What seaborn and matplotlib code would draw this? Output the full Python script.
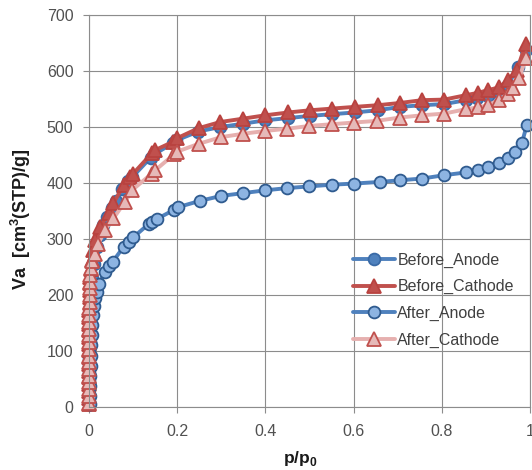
#!/usr/bin/env python3
"""N2 adsorption isotherms, anode/cathode before and after use."""

import matplotlib
matplotlib.use("Agg")
import matplotlib.pyplot as plt
import numpy as np
import pandas as pd
import seaborn as sns

# Before_Anode
before_anode_x = [0.0005, 0.0006, 0.0008, 0.0010, 0.0012, 0.0014, 0.0016, 0.0018, 0.0020, 0.0023,
                  0.0026, 0.0030, 0.0035, 0.0040, 0.0050, 0.0065, 0.0085, 0.012, 0.018, 0.025,
                  0.033, 0.042, 0.052, 0.062, 0.076, 0.090, 0.098, 0.140, 0.148, 0.190,
                  0.198, 0.248, 0.298, 0.350, 0.400, 0.452, 0.502, 0.552, 0.602, 0.655,
                  0.705, 0.755, 0.805, 0.855, 0.880, 0.905, 0.930, 0.950, 0.972, 0.990]
before_anode_y = [5, 18, 32, 46, 60, 74, 88, 102, 116, 130,
                  144, 158, 172, 186, 200, 215, 230, 255, 285, 308,
                  325, 340, 355, 368, 390, 404, 410, 445, 451, 471,
                  476, 492, 500, 506, 512, 516, 520, 523, 526, 530,
                  536, 539, 541, 548, 552, 556, 562, 575, 608, 637]

# Before_Cathode
before_cathode_x = [0.0000, 0.0001, 0.0002, 0.0003, 0.0004, 0.0005, 0.0006, 0.0007, 0.0008, 0.0009,
                    0.0010, 0.0012, 0.0014, 0.0016, 0.0018, 0.0021, 0.0024, 0.0028, 0.0033, 0.0040,
                    0.0050, 0.0070, 0.010, 0.014, 0.025, 0.047, 0.056, 0.079, 0.094, 0.101,
                    0.143, 0.151, 0.192, 0.200, 0.249, 0.298, 0.350, 0.400, 0.452, 0.502,
                    0.552, 0.602, 0.655, 0.705, 0.755, 0.805, 0.855, 0.881, 0.905, 0.930,
                    0.950, 0.970, 0.990]
before_cathode_y = [5, 17, 29, 41, 53, 65, 77, 89, 101, 113,
                    125, 137, 149, 161, 173, 185, 197, 209, 221, 233,
                    246, 262, 280, 298, 322, 346, 364, 396, 411, 417,
                    453, 459, 474, 480, 498, 509, 515, 521, 526, 530,
                    533, 536, 539, 543, 548, 549, 557, 561, 566, 571,
                    584, 602, 649]

# After_Anode
after_anode_x = [0.002, 0.003, 0.004, 0.004, 0.005, 0.005, 0.006, 0.007, 0.008, 0.009,
                 0.011, 0.014, 0.018, 0.024, 0.037, 0.047, 0.054, 0.079, 0.092, 0.101,
                 0.136, 0.143, 0.155, 0.193, 0.203, 0.251, 0.300, 0.350, 0.400, 0.450,
                 0.500, 0.550, 0.600, 0.659, 0.706, 0.755, 0.805, 0.855, 0.881, 0.905,
                 0.930, 0.949, 0.966, 0.981, 0.992]
after_anode_y = [5, 20, 38, 56, 74, 92, 110, 128, 146, 164,
                 180, 194, 205, 220, 242, 252, 259, 286, 295, 303,
                 327, 331, 336, 352, 357, 368, 377, 382, 387, 391,
                 394, 397, 399, 402, 405, 408, 414, 419, 423, 428,
                 435, 444, 455, 471, 503]

# After_Cathode
after_cathode_x = [0.0000, 0.0001, 0.0002, 0.0003, 0.0004, 0.0005, 0.0006, 0.0007, 0.0008, 0.0009,
                   0.0010, 0.0012, 0.0014, 0.0016, 0.0018, 0.0021, 0.0024, 0.0028, 0.0033, 0.0040,
                   0.0050, 0.0070, 0.014, 0.022, 0.037, 0.056, 0.083, 0.098, 0.143, 0.151,
                   0.193, 0.200, 0.249, 0.300, 0.350, 0.400, 0.450, 0.500, 0.550, 0.600,
                   0.652, 0.705, 0.755, 0.805, 0.855, 0.881, 0.905, 0.930, 0.949, 0.962,
                   0.975, 0.990]
after_cathode_y = [8, 20, 32, 44, 56, 68, 80, 92, 104, 116,
                   128, 140, 152, 164, 176, 188, 200, 212, 224, 236,
                   248, 260, 274, 292, 316, 337, 367, 387, 417, 423,
                   451, 456, 470, 482, 488, 493, 497, 502, 505, 508,
                   511, 517, 521, 524, 532, 535, 539, 549, 559, 569,
                   587, 623]

x_ticks = [0, 0.2, 0.4, 0.6, 0.8, 1]
x_tick_labels = ["0", "0.2", "0.4", "0.6", "0.8", "1"]
y_ticks = [0, 100, 200, 300, 400, 500, 600, 700]

sns.set_theme(style="white")
plt.rcParams["font.family"] = ["Liberation Sans", "DejaVu Sans"]
plt.rcParams["mathtext.fontset"] = "custom"
plt.rcParams["mathtext.rm"] = "Liberation Sans"
plt.rcParams["mathtext.bf"] = "Liberation Sans:bold"

series = [
    # label, x, y, line colour, marker, face, edge, size
    ("Before_Anode", before_anode_x, before_anode_y, "#4F81BD", "o", "#4F81BD", "#3A6AA6", 8.5),
    ("Before_Cathode", before_cathode_x, before_cathode_y, "#C0504D", "^", "#C0504D", "#B9423F", 10),
    ("After_Anode", after_anode_x, after_anode_y, "#4F81BD", "o", "#8DB4E2", "#2F5B8F", 8.5),
    ("After_Cathode", after_cathode_x, after_cathode_y, "#E6B0AF", "^", "#E6B9B8", "#C0504D", 10),
]

fig = plt.figure(figsize=(5.32, 4.70), dpi=100)
ax = fig.add_axes([0.1667, 0.134, 0.830, 0.834])

for label, xs, ys, lc, mk, fc, ec, ms in series:
    df = pd.DataFrame({"x": xs, "y": ys})
    sns.lineplot(data=df, x="x", y="y", ax=ax, sort=False, estimator=None,
                 color=lc, linewidth=2.8, marker=mk, markersize=ms,
                 markerfacecolor=fc, markeredgecolor=ec, markeredgewidth=1.3,
                 label=label, clip_on=False)

ax.set_xlim(0, 1)
ax.set_ylim(0, 700)
ax.set_xticks(x_ticks)
ax.set_xticklabels(x_tick_labels)
ax.set_yticks(y_ticks)
ax.grid(True, color="#8C8C8C", linewidth=0.8)
ax.set_axisbelow(True)
for sp in ax.spines.values():
    sp.set_color("#8C8C8C")
    sp.set_linewidth(0.8)
ax.tick_params(axis="both", which="major", direction="out", length=4, width=0.8,
               color="#8C8C8C", labelsize=11.5, labelcolor="#505050", bottom=True, left=True)
ax.tick_params(axis="y", pad=7)
ax.tick_params(axis="x", pad=8)

ax.set_xlabel(r"p/p$_{\mathbf{0}}$", fontsize=12.5, fontweight="bold", color="#1a1a1a")
ax.xaxis.set_label_coords(0.478, -0.108)
ax.set_ylabel(r"Va  [cm$^{\mathbf{3}}$(STP)/g]", fontsize=13, fontweight="bold", color="#1a1a1a")
ax.yaxis.set_label_coords(-0.125, 0.48)

leg = ax.legend(loc="upper left", bbox_to_anchor=(0.585, 0.41), frameon=False,
                fontsize=11.5, handlelength=2.6, handletextpad=0.15, labelspacing=0.72,
                borderaxespad=0)
for t in leg.get_texts():
    t.set_color("#404040")

fig.savefig("out.png", dpi=100)
